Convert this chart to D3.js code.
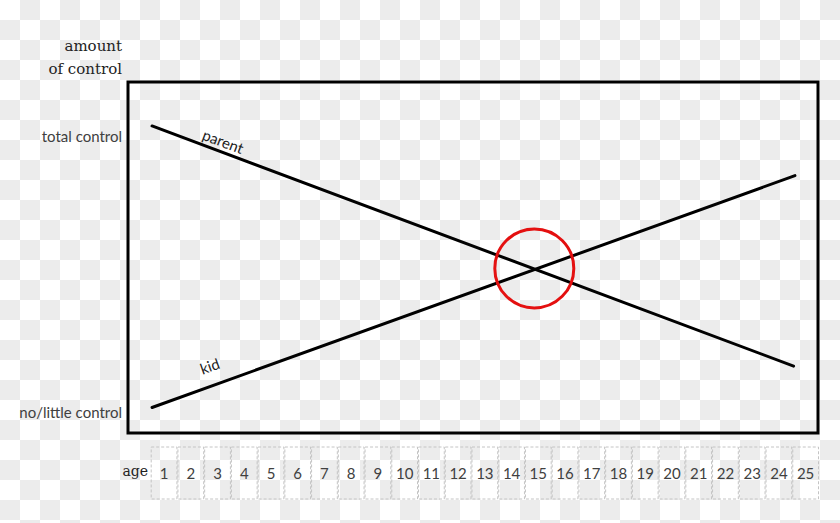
<!DOCTYPE html>
<html>
<head>
<meta charset="utf-8">
<script src="https://cdn.jsdelivr.net/npm/d3@7"></script>
<style>
  html, body { margin: 0; padding: 0; background: #fff; }
  svg { display: block; }
</style>
</head>
<body>
<svg id="chart" width="840" height="523"></svg>
<script>
// ===================================
// Parent vs kid: amount of control by age
// ===================================

// Data
const AGES = d3.range(1, 26);                 // 1 .. 25
const LEVEL_LABELS = ['no/little control', 'total control'];
const LEVEL_VALUES = [0, 100];

// each line is two points: [age, control %]
const parentAges = [0.55, 24.55];
const parentControl = [104, 17];
const kidAges = [0.55, 24.6];
const kidControl = [2, 86];

// crossover highlight
const crossAge = [14.85];
const crossControl = [52.4];

// Layout
const width = 840;
const height = 523;
const frame = { x0: 128, y0: 82, x1: 818, y1: 433 };
const cellTop = 447;
const cellBottom = 499;

const svg = d3.select('#chart');

// checkerboard backdrop (transparent image look)
const defs = svg.append('defs');
const pat = defs.append('pattern')
    .attr('id', 'checker')
    .attr('width', 40)
    .attr('height', 40)
    .attr('patternUnits', 'userSpaceOnUse');
pat.append('rect').attr('width', 40).attr('height', 40).attr('fill', '#ffffff');
pat.append('rect').attr('x', 20).attr('y', 0).attr('width', 20).attr('height', 20).attr('fill', '#ececec');
pat.append('rect').attr('x', 0).attr('y', 20).attr('width', 20).attr('height', 20).attr('fill', '#ececec');

svg.append('rect')
    .attr('width', width)
    .attr('height', height)
    .attr('fill', 'url(#checker)');

// Scales
const x = d3.scaleLinear().domain([0.5, 25.5]).range([150.7, 819]);
const y = d3.scaleLinear().domain([0, 100]).range([413, 137]);

// ===================================
// Frame
// ===================================
svg.append('rect')
    .attr('x', frame.x0)
    .attr('y', frame.y0)
    .attr('width', frame.x1 - frame.x0)
    .attr('height', frame.y1 - frame.y0)
    .attr('fill', 'none')
    .attr('stroke', '#000')
    .attr('stroke-width', 3);

// ===================================
// Lines
// ===================================
const line = d3.line().x(d => x(d[0])).y(d => y(d[1]));

const series = [
    { name: 'parent', pts: d3.zip(parentAges, parentControl), at: 0.105, offset: 10 },
    { name: 'kid', pts: d3.zip(kidAges, kidControl), at: 0.1, offset: 19 }
];

svg.selectAll('.series')
    .data(series)
    .join('path')
    .attr('class', 'series')
    .attr('d', d => line(d.pts))
    .attr('fill', 'none')
    .attr('stroke', '#000')
    .attr('stroke-width', 3)
    .attr('stroke-linecap', 'round');

// labels sitting along each line, near the left end
svg.selectAll('.series-label')
    .data(series)
    .join('text')
    .attr('class', 'series-label')
    .attr('transform', d => {
        const [a, b] = d.pts;
        const px0 = x(a[0]), py0 = y(a[1]), px1 = x(b[0]), py1 = y(b[1]);
        const ang = Math.atan2(py1 - py0, px1 - px0);
        const cx = px0 + (px1 - px0) * d.at;
        const cy = py0 + (py1 - py0) * d.at;
        // nudge perpendicular, above the line
        const nx = Math.sin(ang) * d.offset;
        const ny = -Math.cos(ang) * d.offset;
        return `translate(${cx + nx},${cy + ny}) rotate(${ang * 180 / Math.PI})`;
    })
    .attr('text-anchor', 'middle')
    .attr('dy', '0.35em')
    .attr('font-family', 'Lato, "Open Sans", sans-serif')
    .attr('font-size', 15)
    .attr('fill', '#222')
    .text(d => d.name);

// crossover circle
svg.selectAll('.cross')
    .data(d3.zip(crossAge, crossControl))
    .join('circle')
    .attr('class', 'cross')
    .attr('cx', d => x(d[0]))
    .attr('cy', d => y(d[1]))
    .attr('r', 39.5)
    .attr('fill', 'none')
    .attr('stroke', '#e41010')
    .attr('stroke-width', 3);

// ===================================
// Y labels
// ===================================
svg.selectAll('.level')
    .data(d3.zip(LEVEL_VALUES, LEVEL_LABELS))
    .join('text')
    .attr('class', 'level')
    .attr('x', 122)
    .attr('y', d => y(d[0]))
    .attr('dy', '0.35em')
    .attr('text-anchor', 'end')
    .attr('font-family', 'Lato, "Open Sans", sans-serif')
    .attr('font-size', 15)
    .attr('fill', '#404040')
    .text(d => d[1]);

svg.append('text')
    .attr('x', 122)
    .attr('y', 51)
    .attr('text-anchor', 'end')
    .attr('font-family', '"DejaVu Serif", "Liberation Serif", serif')
    .attr('font-size', 15)
    .attr('fill', '#222')
    .selectAll('tspan')
    .data(['amount', 'of control'])
    .join('tspan')
    .attr('x', 122)
    .attr('dy', (d, i) => i === 0 ? 0 : 23)
    .text(d => d);

// ===================================
// Age row
// ===================================
const cellW = x(1.5) - x(0.5);

svg.selectAll('.cell')
    .data(AGES)
    .join('rect')
    .attr('class', 'cell')
    .attr('x', d => x(d - 0.5) + 0.5)
    .attr('y', cellTop)
    .attr('width', cellW - 1)
    .attr('height', cellBottom - cellTop)
    .attr('fill', 'none')
    .attr('stroke', '#c4c4c4')
    .attr('stroke-width', 1)
    .attr('stroke-dasharray', '3,2');

svg.selectAll('.age')
    .data(AGES)
    .join('text')
    .attr('class', 'age')
    .attr('x', d => x(d))
    .attr('y', 479)
    .attr('text-anchor', 'middle')
    .attr('font-family', 'Lato, "Open Sans", sans-serif')
    .attr('font-size', 15)
    .attr('fill', '#404040')
    .text(d => d);

svg.append('text')
    .attr('x', 148)
    .attr('y', 476)
    .attr('text-anchor', 'end')
    .attr('font-family', '"DejaVu Serif", "Liberation Serif", serif')
    .attr('font-size', 14)
    .attr('fill', '#222')
    .text('age');
</script>
</body>
</html>
